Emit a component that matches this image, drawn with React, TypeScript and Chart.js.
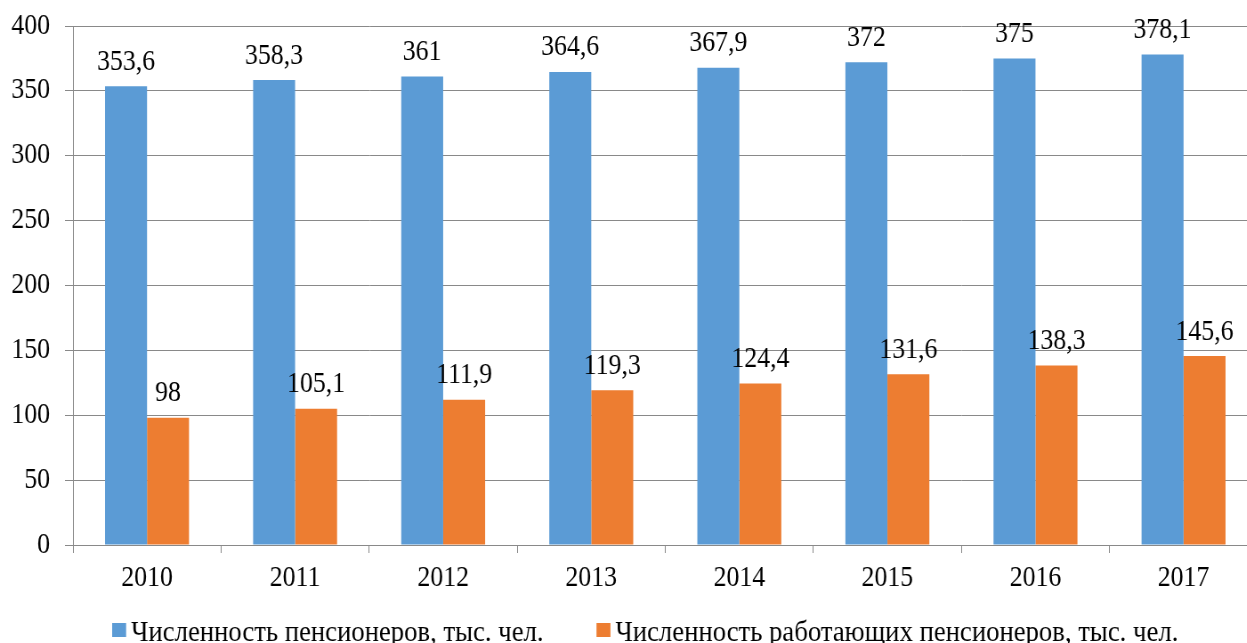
import React, { useEffect, useRef } from "react";
import { Chart, registerables } from "chart.js";

Chart.register(...registerables);

const categories = ["2010", "2011", "2012", "2013", "2014", "2015", "2016", "2017"];
const pensioners = [353.6, 358.3, 361, 364.6, 367.9, 372, 375, 378.1];
const workingPensioners = [98, 105.1, 111.9, 119.3, 124.4, 131.6, 138.3, 145.6];
const seriesNames = [
  "Численность пенсионеров, тыс. чел.",
  "Численность работающих пенсионеров, тыс. чел.",
];
const colors = ["#5B9BD5", "#ED7D31"];

const FONT = "'Liberation Serif', 'Times New Roman', serif";
const SX = 0.89; // horizontal squeeze of the whole picture
const W = 1413;
const H = 643;

const valueLabels = {
  id: "valueLabels",
  afterDatasetsDraw(chart: any) {
    const ctx = chart.ctx;
    ctx.save();
    ctx.font = `29px ${FONT}`;
    ctx.fillStyle = "#000";
    ctx.textAlign = "center";
    ctx.textBaseline = "alphabetic";
    chart.data.datasets.forEach((ds: any, i: number) => {
      const meta = chart.getDatasetMeta(i);
      meta.data.forEach((bar: any, j: number) => {
        const v = ds.data[j];
        const txt = String(v).replace(".", ",");
        ctx.fillText(txt, bar.x, bar.y - 16.5);
      });
    });
    ctx.restore();
  },
};

const bottomLegend = {
  id: "bottomLegend",
  afterDraw(chart: any) {
    const ctx = chart.ctx;
    ctx.save();
    ctx.font = `30px ${FONT}`;
    ctx.textBaseline = "alphabetic";
    ctx.textAlign = "left";
    let x = chart.chartArea.left + 44;
    const boxTop = 623;
    const baseline = 641;
    chart.data.datasets.forEach((ds: any) => {
      ctx.fillStyle = ds.backgroundColor;
      ctx.fillRect(x, boxTop, 15.7, 14);
      x += 15.7 + 5.6;
      ctx.fillStyle = "#000";
      ctx.fillText(ds.label, x, baseline);
      x += ctx.measureText(ds.label).width + 59.5;
    });
    ctx.restore();
  },
};

export default function App() {
  const ref = useRef<HTMLCanvasElement>(null);
  useEffect(() => {
    const chart = new Chart(ref.current!, {
      type: "bar",
      data: {
        labels: categories,
        datasets: [
          {
            label: seriesNames[0],
            data: pensioners,
            backgroundColor: colors[0],
            categoryPercentage: 0.567,
            barPercentage: 1,
          },
          {
            label: seriesNames[1],
            data: workingPensioners,
            backgroundColor: colors[1],
            categoryPercentage: 0.567,
            barPercentage: 1,
          },
        ],
      },
      options: {
        animation: false,
        responsive: false,
        maintainAspectRatio: false,
        devicePixelRatio: 1,
        layout: { padding: { top: 26, left: 0, right: 0, bottom: 38 } },
        plugins: {
          tooltip: { enabled: false },
          legend: { display: false },
        },
        scales: {
          x: {
            grid: {
              display: true,
              drawOnChartArea: false,
              drawTicks: true,
              tickLength: 8,
              color: "#898989",
              offset: true,
            },
            border: { display: true, color: "#898989", width: 1 },
            ticks: {
              font: { family: FONT, size: 29 },
              color: "#000",
              padding: 8,
            },
            afterFit(scale: any) {
              scale.height = 60;
              scale.paddingLeft = 0;
              scale.paddingRight = 0;
            },
          },
          y: {
            min: 0,
            max: 400,
            ticks: {
              stepSize: 50,
              font: { family: FONT, size: 29 },
              color: "#000",
              padding: 16.8,
            },
            grid: {
              color: "#898989",
              tickLength: 9,
            },
            border: { display: true, color: "#898989", width: 1 },
            afterFit(scale: any) {
              scale.width = 82;
              scale.paddingTop = 0;
              scale.paddingBottom = 0;
            },
          },
        },
      },
      plugins: [valueLabels, bottomLegend],
    });
    return () => chart.destroy();
  }, []);
  return (
    <div style={{ position: "fixed", left: 0, top: 0 }}>
      <canvas
        ref={ref}
        width={W}
        height={H}
        style={{
          display: "block",
          width: `${W}px`,
          height: `${H}px`,
          transform: `scaleX(${SX})`,
          transformOrigin: "0 0",
        }}
      />
    </div>
  );
}
